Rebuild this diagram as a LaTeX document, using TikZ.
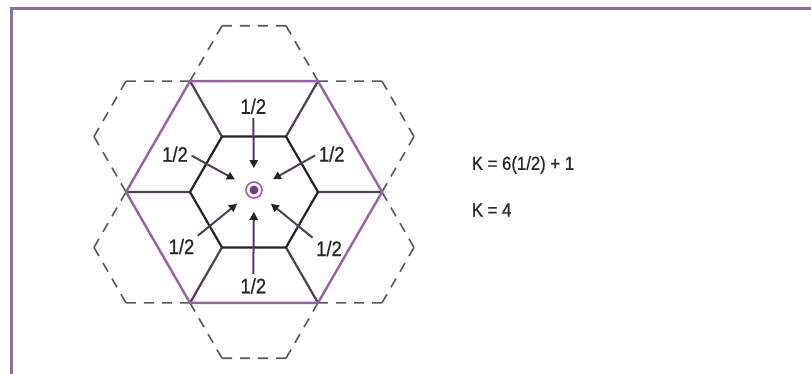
\documentclass[tikz,border=0pt]{standalone}
\usepackage{fontspec}
\setmainfont{Liberation Sans}[FakeStretch=0.88,FakeBold=0.8]
\usetikzlibrary{arrows.meta}
\definecolor{hexpurple}{RGB}{150,98,162}
\definecolor{spokecol}{RGB}{82,62,92}
\definecolor{hexblack}{RGB}{38,34,42}
\definecolor{dashgray}{RGB}{88,88,88}
\definecolor{framecol}{RGB}{136,116,142}
\definecolor{txtgray}{RGB}{40,40,40}
\definecolor{dotpurple}{RGB}{112,64,128}

\begin{document}
\begin{tikzpicture}[
  x=1pt,y=1pt,
  font=\fontsize{21}{25}\selectfont,
  frame/.style={draw=framecol,line width=2.5pt},
  outerhex/.style={draw=hexpurple,line width=2.4pt,line join=round},
  innerhex/.style={draw=hexblack,line width=2.2pt,line join=round},
  spoke/.style={draw=spokecol,line width=2.2pt},
  cell/.style={draw=dashgray,line width=1.6pt,dash pattern=on 10pt off 8pt},
  frac/.style={text=txtgray,inner sep=1pt},
  arr/.style={draw=spokecol,line width=2pt,-{Triangle[length=8pt,width=8pt,color=hexblack]},shorten <=3pt,shorten >=13pt},
  formula/.style={text=txtgray,anchor=west,inner sep=0pt,font=\fontsize{19}{23}\selectfont}
]
\useasboundingbox (-254,-182) rectangle (557,192);
\draw[frame] (-242.5,-190) |- (565,183.7);

\draw[cell] (0:128) -- (19.11:169.33) (19.11:169.33) -- (40.89:169.33) (40.89:169.33) -- (60:128)
  (60:128) -- (79.11:169.33) (79.11:169.33) -- (100.89:169.33) (100.89:169.33) -- (120:128)
  (120:128) -- (139.11:169.33) (139.11:169.33) -- (160.89:169.33) (160.89:169.33) -- (180:128)
  (180:128) -- (199.11:169.33) (199.11:169.33) -- (220.89:169.33) (220.89:169.33) -- (240:128)
  (240:128) -- (259.11:169.33) (259.11:169.33) -- (280.89:169.33) (280.89:169.33) -- (300:128)
  (300:128) -- (319.11:169.33) (319.11:169.33) -- (340.89:169.33) (340.89:169.33) -- (0:128);

\draw[spoke] (0:64) -- (0:128) (60:64) -- (60:128) (120:64) -- (120:128)
  (180:64) -- (180:128) (240:64) -- (240:128) (300:64) -- (300:128);
\draw[outerhex] (0:128) -- (60:128) -- (120:128) -- (180:128) -- (240:128) -- (300:128) -- cycle;
\draw[innerhex] (0:64) -- (60:64) -- (120:64) -- (180:64) -- (240:64) -- (300:64) -- cycle;

\node[circle,draw=hexpurple,line width=1.6pt,fill=white,minimum size=16pt,inner sep=0pt] (c) at (0,2) {};
\fill[dotpurple] (c.center) circle (4.5);

\node[frac] (h1) at (-0.7,85.7) {1/2};
\node[frac] (h2) at (-79,37.8) {1/2};
\node[frac] (h3) at (77.7,38) {1/2};
\node[frac] (h4) at (-72.5,-54.5) {1/2};
\node[frac] (h5) at (75,-56.5) {1/2};
\node[frac] (h6) at (-0.7,-93.8) {1/2};
\draw[arr] (h1.south) -- (c); \draw[arr] (h2.east) -- (c); \draw[arr] (h3.west) -- (c);
\draw[arr] (h4.north east) -- (c); \draw[arr] (h5.north west) -- (c); \draw[arr] (h6.north) -- (c);

\node[formula] (k1) at (217.7,27) {K = 6(1/2) + 1};
\node[formula] (k2) at (217.7,-18) {K = 4};
\end{tikzpicture}
\end{document}
